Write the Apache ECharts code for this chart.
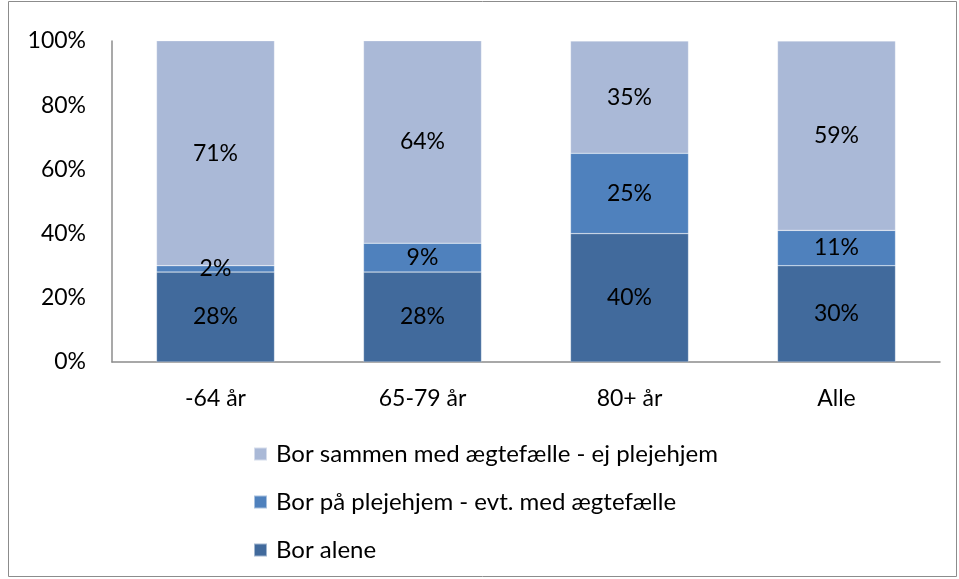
<!DOCTYPE html>
<html>
<head>
<meta charset="utf-8">
<script src="https://cdn.jsdelivr.net/npm/echarts@6/dist/echarts.min.js"></script>
<style>
  html, body { margin: 0; padding: 0; background: #fff; }
  #chart { width: 959px; height: 579px; }
</style>
</head>
<body>
<div id="chart"></div>
<script>
  // kategorier og værdier (procent)
  const categories = ['-64 år', '65-79 år', '80+ år', 'Alle']
  const alene = [28, 28, 40, 30]
  const plejehjem = [2, 9, 25, 11]
  const sammen = [71, 64, 35, 59]
  const yTicks = [0, 20, 40, 60, 80, 100]

  const seriesNames = [
    'Bor alene',
    'Bor på plejehjem - evt. med ægtefælle',
    'Bor sammen med ægtefælle - ej plejehjem'
  ]
  const colors = ['#416A9C', '#4F81BD', '#AAB9D7']

  const font = 'Lato, "Open Sans", sans-serif'
  const fs = 23

  let chart = echarts.init(document.getElementById('chart'))

  const mkSeries = function (name, data, i) {
    return {
      name: name,
      type: 'bar',
      stack: 'total',
      barWidth: '57%',
      clip: true,
      data: data,
      itemStyle: {
        color: colors[i],
        borderColor: 'rgba(255,255,255,0.5)',
        borderWidth: 0.5
      },
      label: {
        show: true,
        position: 'inside',
        color: '#000',
        fontFamily: font,
        fontSize: fs,
        formatter: function (p) { return p.value + '%' }
      }
    }
  }

  const option = {
    animation: false,
    graphic: [{
      type: 'rect',
      shape: { x: 8.5, y: 1.5, width: 948, height: 575 },
      style: { fill: 'none', stroke: '#8c8c8c', lineWidth: 1 }
    }],
    legend: {
      orient: 'vertical',
      left: 248,
      top: 437,
      itemWidth: 13,
      itemHeight: 13,
      itemGap: 24,
      icon: 'rect',
      data: [seriesNames[2], seriesNames[1], seriesNames[0]],
      textStyle: { color: '#000', fontFamily: font, fontSize: 24, padding: [0, 0, 0, 4] }
    },
    grid: {
      left: 112,
      top: 41,
      width: 828,
      height: 321
    },
    xAxis: {
      type: 'category',
      data: categories,
      axisTick: { show: false },
      axisLine: { lineStyle: { color: '#8c8c8c', width: 1.5 } },
      axisLabel: { color: '#000', fontFamily: font, fontSize: fs, margin: 25 }
    },
    yAxis: {
      type: 'value',
      min: yTicks[0],
      max: yTicks[yTicks.length - 1],
      interval: 20,
      splitLine: { show: false },
      axisTick: { show: false },
      axisLine: { show: true, lineStyle: { color: '#8c8c8c', width: 1.5 } },
      axisLabel: {
        color: '#000',
        fontFamily: font,
        fontSize: fs,
        margin: 26,
        formatter: function (v) { return v + '%' }
      }
    },
    series: [
      mkSeries(seriesNames[0], alene, 0),
      mkSeries(seriesNames[1], plejehjem, 1),
      mkSeries(seriesNames[2], sammen, 2)
    ]
  }

  chart.setOption(option)
</script>
</body>
</html>
